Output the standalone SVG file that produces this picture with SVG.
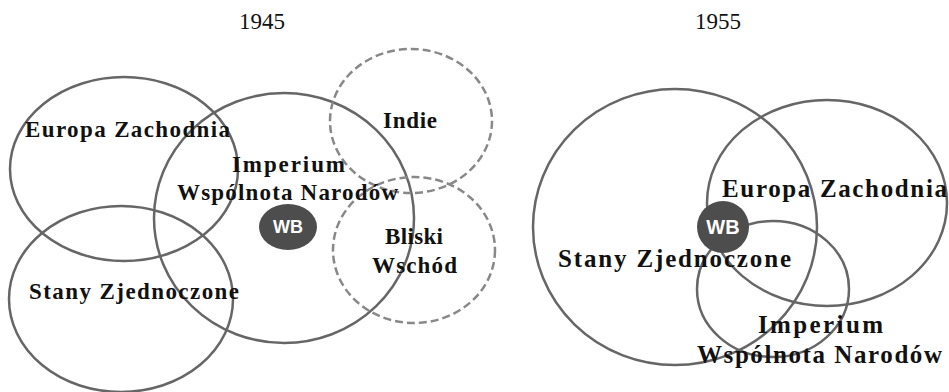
<svg xmlns="http://www.w3.org/2000/svg" width="949" height="392" viewBox="0 0 949 392">
<style>
.bg{fill:#ffffff}
.ring{fill:none;stroke:#666666;stroke-width:2.5}
.dash{fill:none;stroke:#888888;stroke-width:2.5;stroke-dasharray:8 4}
.wb{fill:#4d4d4d}
.wbt{fill:#ffffff;font-family:"Liberation Sans",Arial,sans-serif;font-weight:bold;text-anchor:middle}
.yr{fill:#111111;font-family:"Liberation Serif","Times New Roman",serif;font-size:23px;text-anchor:middle}
.lb{fill:#111111;font-family:"Liberation Serif","Times New Roman",serif;font-weight:bold}
.l{font-size:23px}
.r{font-size:25px}
</style>
<rect class="bg" x="0" y="0" width="949" height="392"/>
<g id="title-1945"><text class="yr" x="262" y="29">1945</text></g>
<g id="title-1955"><text class="yr" x="718" y="29">1955</text></g>

<!-- 1945 panel -->
<g id="p1-europa">
  <ellipse class="ring" cx="124" cy="169" rx="114" ry="92"/>
</g>
<g id="p1-stany">
  <ellipse class="ring" cx="121" cy="299" rx="112" ry="93"/>
</g>
<g id="p1-imperium">
  <ellipse class="ring" cx="284" cy="218" rx="130" ry="125"/>
</g>
<g id="p1-indie">
  <ellipse class="dash" cx="411" cy="121" rx="81" ry="72"/>
</g>
<g id="p1-bliski">
  <ellipse class="dash" cx="414" cy="250" rx="81" ry="73"/>
</g>
<g id="p1-labels">
  <text class="lb l" x="25" y="137" textLength="205" lengthAdjust="spacing">Europa Zachodnia</text>
  <text class="lb l" x="29" y="299" textLength="210" lengthAdjust="spacing">Stany Zjednoczone</text>
  <text class="lb l" x="232" y="172" textLength="113" lengthAdjust="spacing">Imperium</text>
  <text class="lb l" x="177" y="200" textLength="221" lengthAdjust="spacing">Wspólnota Narodów</text>
  <text class="lb l" x="383" y="128" textLength="54" lengthAdjust="spacing">Indie</text>
  <text class="lb l" x="385" y="244" textLength="58" lengthAdjust="spacing">Bliski</text>
  <text class="lb l" x="372" y="273" textLength="85" lengthAdjust="spacing">Wschód</text>
</g>
<g id="p1-wb">
  <ellipse class="wb" cx="288" cy="227" rx="29" ry="23"/>
  <text class="wbt" x="288" y="233" font-size="18">WB</text>
</g>

<!-- 1955 panel -->
<g id="p2-stany">
  <ellipse class="ring" cx="675" cy="227" rx="142" ry="138"/>
</g>
<g id="p2-europa">
  <ellipse class="ring" cx="827" cy="203" rx="120" ry="103"/>
</g>
<g id="p2-imperium">
  <ellipse class="ring" cx="773" cy="289" rx="76" ry="68"/>
</g>
<g id="p2-wb">
  <circle class="wb" cx="723" cy="227" r="26"/>
  <text class="wbt" x="723" y="234" font-size="20">WB</text>
</g>
<g id="p2-labels">
  <text class="lb r" x="722" y="197" textLength="225" lengthAdjust="spacing">Europa Zachodnia</text>
  <text class="lb r" x="558" y="267" textLength="233" lengthAdjust="spacing">Stany Zjednoczone</text>
  <text class="lb r" x="758" y="333" textLength="125" lengthAdjust="spacing">Imperium</text>
  <text class="lb r" x="697" y="363" textLength="245" lengthAdjust="spacing">Wspólnota Narodów</text>
</g>
</svg>
